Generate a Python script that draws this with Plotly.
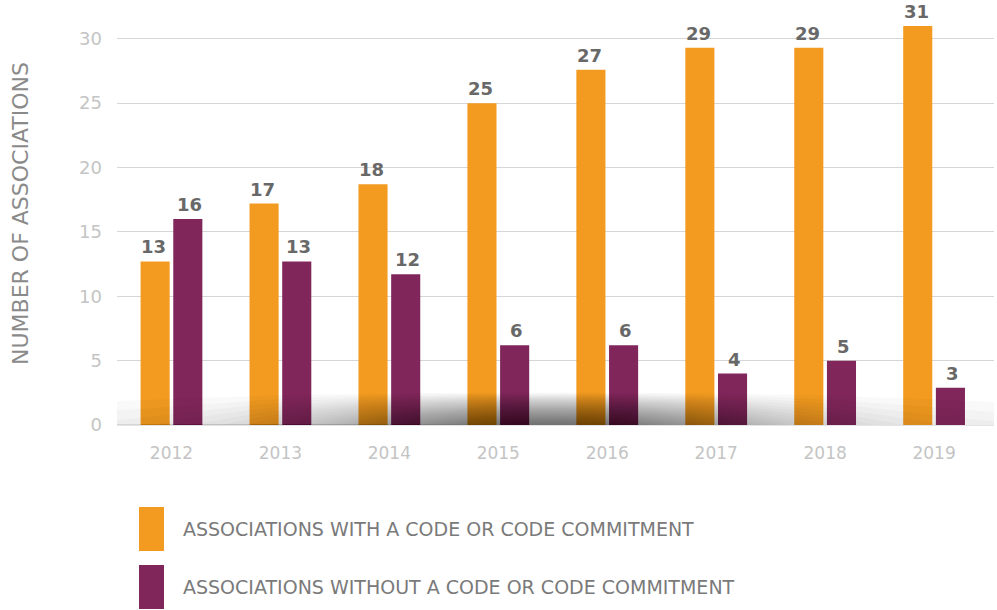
import numpy as np
import plotly.graph_objects as go

# ---- data ----
years = ["2012", "2013", "2014", "2015", "2016", "2017", "2018", "2019"]
with_code = [12.7, 17.2, 18.7, 25.0, 27.6, 29.3, 29.3, 31.0]          # bar heights as drawn
with_code_labels = ["13", "17", "18", "25", "27", "29", "29", "31"]
without_code = [16.0, 12.7, 11.7, 6.2, 6.2, 4.0, 5.0, 2.9]
without_code_labels = ["16", "13", "12", "6", "6", "4", "5", "3"]
series_names = ["ASSOCIATIONS WITH A CODE OR CODE COMMITMENT",
                "ASSOCIATIONS WITHOUT A CODE OR CODE COMMITMENT"]
y_ticks = [0, 5, 10, 15, 20, 25, 30]

ORANGE = "#F29B20"
PURPLE = "#81265B"
FONT = "DejaVu Sans"

W, H = 997, 610
ML, MR, MT, MB = 117, 3, 13, 185
PW, PH = W - ML - MR, H - MT - MB

def px2paper(x=None, y=None):
    rx = None if x is None else (x - ML) / PW
    ry = None if y is None else (H - MB - y) / PH
    return rx, ry

fig = go.Figure()
fig.add_trace(go.Bar(x=years, y=with_code, name=series_names[0],
                     marker_color=ORANGE, marker_line_width=0, showlegend=False))
fig.add_trace(go.Bar(x=years, y=without_code, name=series_names[1],
                     marker_color=PURPLE, marker_line_width=0, showlegend=False))

# soft shadow at the baseline: stacked translucent level-set layers
cx, Y, p = 3.45, 2.6, 1.0
delta = 0.025
alpha = 1 - np.exp(-delta)
dx = np.linspace(-5.5, 5.5, 320)
G = 0.55 * np.exp(-(dx / 1.8) ** 2) + 0.25 / (1 + (dx / 2.8) ** 2)
for c in np.arange(delta, G.max(), delta):
    ratio = np.clip(c / G, 0, 1)
    yy = Y * (1 - ratio ** (1 / p))
    xs = np.concatenate([cx + dx, (cx + dx)[::-1]])
    ys = np.concatenate([yy, np.zeros_like(yy)])
    fig.add_trace(go.Scatter(x=xs, y=ys, xaxis="x2", mode="lines", fill="toself",
                             line=dict(width=0), fillcolor=f"rgba(0,0,0,{alpha:.4f})",
                             hoverinfo="skip", showlegend=False))

# value labels
for vals, labs, shift in [(with_code, with_code_labels, -18), (without_code, without_code_labels, 18)]:
    for i, (v, lab) in enumerate(zip(vals, labs)):
        fig.add_annotation(x=i, y=v, text=f"<b>{lab}</b>", showarrow=False,
                           xshift=shift, yshift=2, yanchor="bottom",
                           font=dict(family=FONT, size=18, color="#686868"))

# legend (manual)
for i, (col, name) in enumerate([(ORANGE, series_names[0]), (PURPLE, series_names[1])]):
    top = 507 + i * 58
    x0, y0 = px2paper(139, top)
    x1, y1 = px2paper(164, top + 44)
    fig.add_shape(type="rect", xref="paper", yref="paper", x0=x0, x1=x1, y0=y1, y1=y0,
                  fillcolor=col, line_width=0)
    tx, ty = px2paper(181, top + 22)
    fig.add_annotation(xref="paper", yref="paper", x=tx, y=ty, text=name, showarrow=False,
                       xanchor="left", yanchor="middle",
                       font=dict(family=FONT, size=19, color="#7a7a7a"))

# y title
tx, ty = px2paper(20, 214)
fig.add_annotation(xref="paper", yref="paper", x=tx, y=ty, text="NUMBER OF ASSOCIATIONS",
                   textangle=-90, showarrow=False, xanchor="center", yanchor="middle",
                   font=dict(family=FONT, size=22, color="#8a8a8a"))

fig.update_layout(
    width=W, height=H,
    margin=dict(l=ML, r=MR, t=MT, b=MB),
    paper_bgcolor="white", plot_bgcolor="white",
    barmode="group", bargap=0.40, bargroupgap=0.11,
    font=dict(family=FONT),
    xaxis=dict(type="category", range=[-0.5, 7.55], showgrid=False, zeroline=False,
               showline=False, ticks="", automargin=False,
               tickfont=dict(family=FONT, size=17, color="#c4c4c4"),
               ticklabelstandoff=16),
    xaxis2=dict(range=[-0.5, 7.55], overlaying="x", visible=False),
    yaxis=dict(range=[0, 32], tickvals=y_ticks, showgrid=True, gridcolor="#d6d6d6",
               gridwidth=1, zeroline=True, zerolinecolor="#e4e4e4", zerolinewidth=1,
               showline=False, ticks="", automargin=False,
               tickfont=dict(family=FONT, size=18, color="#c4c4c4"),
               ticklabelstandoff=14),
)

fig.write_html("out.html", config={"displayModeBar": False},
               post_script="document.body.style.margin='0';document.body.style.overflow='hidden';")
